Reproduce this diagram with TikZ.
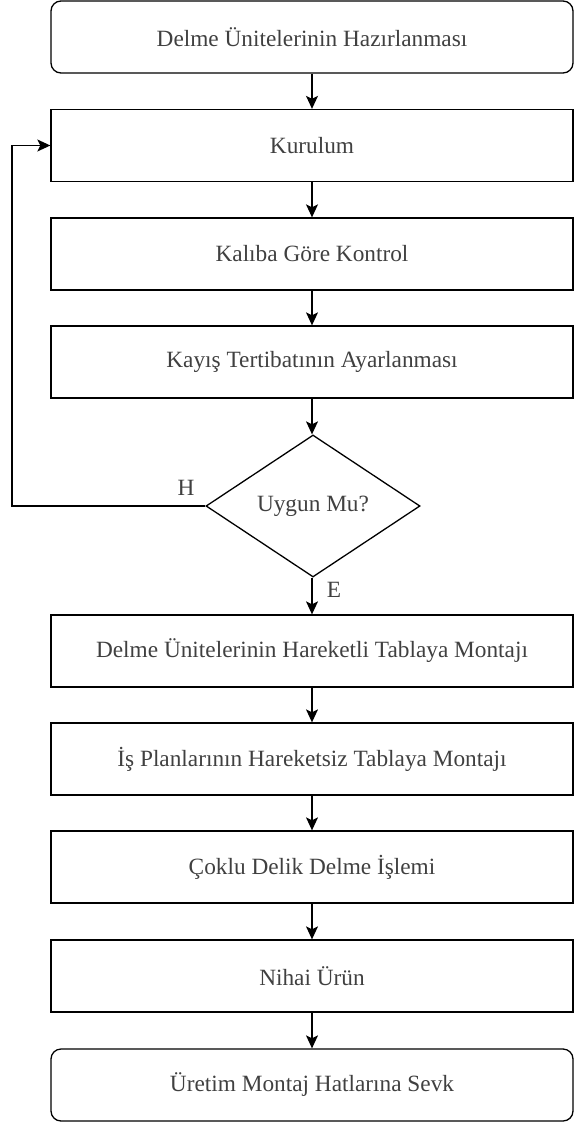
\documentclass[tikz,border=0pt]{standalone}
\usepackage{fontspec}
\setmainfont{Liberation Serif}
\usetikzlibrary{arrows.meta,shapes.geometric}
\begin{document}
\begin{tikzpicture}[x=1pt,y=-1pt,
  every node/.style={font=\fontsize{23.3}{27}\selectfont, text=black!75},
  procbox/.style={draw, line width=1.3pt, rectangle, minimum width=522pt, minimum height=72pt, inner sep=0pt},
  termbox/.style={procbox, rounded corners=10pt},
  decision/.style={draw, line width=1.3pt, diamond, aspect=1.5, minimum width=214pt, minimum height=142pt, inner sep=0pt},
  flow/.style={line width=1.3pt, -{Stealth[length=13pt,width=12pt,inset=3pt]}},
  lbl/.style={inner sep=0pt}]
\useasboundingbox (0,0) rectangle (573,1124);
\node[termbox] (b1) at (312,37) {Delme Ünitelerinin Hazırlanması};
\node[procbox] (b2) at (312,145.5) {Kurulum};
\node[procbox] (b3) at (312,254) {Kalıba Göre Kontrol};
\node[procbox] (b4) at (312,362) {Kayış Tertibatının Ayarlanması};
\node[decision] (d) at (313,506) {Uygun Mu?};
\node[procbox] (b5) at (312,651) {Delme Ünitelerinin Hareketli Tablaya Montajı};
\node[procbox] (b6) at (312,759) {İş Planlarının Hareketsiz Tablaya Montajı};
\node[procbox] (b7) at (312,867) {Çoklu Delik Delme İşlemi};
\node[procbox] (b8) at (312,976) {Nihai Ürün};
\node[termbox] (b9) at (312,1085) {Üretim Montaj Hatlarına Sevk};
\node[lbl] (h) at (186,488) {H};
\node[lbl] (e) at (334,590) {E};
\coordinate (fb) at (12,506);
\draw[flow] (b1) -- (b2);
\draw[flow] (b2) -- (b3);
\draw[flow] (b3) -- (b4);
\draw[flow] (b4.south) -- (b4.south |- d.north);
\draw[flow] (d.south -| b5.north) -- (b5.north);
\draw[flow] (b5) -- (b6);
\draw[flow] (b6) -- (b7);
\draw[flow] (b7) -- (b8);
\draw[flow] (b8) -- (b9);
\draw[flow] (d.west) -- (fb) |- (b2.west);
\end{tikzpicture}
\end{document}
